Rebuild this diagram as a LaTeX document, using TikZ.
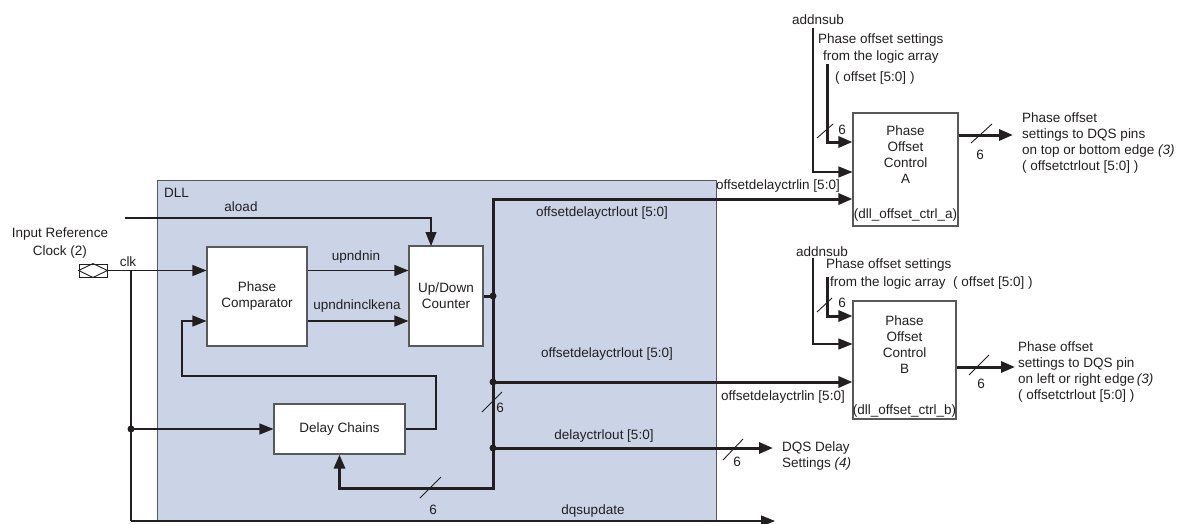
\documentclass[tikz,border=0pt]{standalone}
\usepackage{fontspec}
\setmainfont{Liberation Sans}
\usetikzlibrary{arrows.meta,calc}
\definecolor{dllfill}{HTML}{CBD3E6}
\definecolor{ink}{HTML}{231F20}
\definecolor{edge}{HTML}{58595B}
\begin{document}
\begin{tikzpicture}[x=1pt,y=-1pt, font=\fontsize{13.5}{16}\selectfont,
  wire/.style={draw=ink, line width=1.1pt},
  bus/.style={draw=ink, line width=3pt},
  arr/.style={-{Triangle[length=14pt,width=11pt]}},
  arrtwo/.style={{Triangle[length=14pt,width=11pt]}-{Triangle[length=14pt,width=11pt]}},
  blk/.style={draw=edge, fill=white, line width=1.1pt, inner sep=0pt, text=ink},
  lbl/.style={text=ink, inner sep=0pt},
  jdot/.style={circle, fill=ink, inner sep=0pt, minimum size=7pt},
  tick/.style={draw=ink, line width=0.9pt}]
\useasboundingbox (0,0) rectangle (1177,523);

% DLL region
\node[draw=edge, fill=dllfill, line width=1pt, minimum width=559pt, minimum height=341pt, inner sep=0pt, anchor=north west] (dll) at (157,180) {};
\node[lbl, anchor=west] (dlll) at (164,193) {DLL};

% blocks
\node[blk, minimum width=100pt, minimum height=99pt, align=center] (pc) at (257,296.5) {Phase\\Comparator};
\node[blk, minimum width=74pt, minimum height=100pt, align=center] (udc) at (446,296) {Up/Down\\Counter};
\node[blk, minimum width=131pt, minimum height=50pt] (dc) at (339.5,429) {Delay Chains};
\node[blk, minimum width=105pt, minimum height=113pt] (pa) at (905.5,169.5) {};
\node[lbl, align=center] (pat) at (905.5,155) {Phase\\Offset\\Control\\A};
\node[lbl] (pan) at (905.5,215) {(dll\_offset\_ctrl\_a)};
\node[blk, minimum width=103pt, minimum height=118pt] (pb) at (904.5,360) {};
\node[lbl, align=center] (pbt) at (904.5,345) {Phase\\Offset\\Control\\B};
\node[lbl] (pbn) at (904.5,411) {(dll\_offset\_ctrl\_b)};

% input pin
\node[draw=ink, line width=0.9pt, minimum width=28pt, minimum height=13pt, inner sep=0pt] (pin) at (93,270.5) {};
\draw[ink, line width=0.9pt] (pin.west) -- (pin.north) -- (pin.east) -- (pin.south) -- cycle;

% coordinates
\coordinate (aload) at (125,218);
\coordinate (udin) at (431,246);
\coordinate (j1) at (131,270.5);
\coordinate (j2) at (131,429);
\coordinate (j3) at (131,521);
\coordinate (dqs) at (775,521);
\coordinate (fb) at (182,321);
\coordinate (fb2) at (182,376);
\coordinate (fb3) at (436,376);
\coordinate (fb4) at (436,429);
\coordinate (bt) at (493,199);
\coordinate (b1) at (493,296);
\coordinate (b2) at (493,382);
\coordinate (b3) at (493,448);
\coordinate (bb) at (493,488);
\coordinate (dqd) at (773,448);
\coordinate (asa) at (813,28);
\coordinate (asa2) at (813,172);
\coordinate (ofa) at (827,64);
\coordinate (ofa2) at (827,142);
\coordinate (outa) at (1013,135);
\coordinate (asb) at (813,258);
\coordinate (asb2) at (813,344);
\coordinate (ofb) at (827,277);
\coordinate (ofb2) at (827,316);
\coordinate (outb) at (1015,367);

% thin connectors
\draw[wire,arr] (aload) -| (udin);
\draw[wire,arr] (pin.east) -- (pc.west |- pin.east);
\draw[wire] (j1) -- (j3);
\draw[wire,arr] (j3) -- (dqs);
\draw[wire,arr] (j2) -- (dc.west);
\draw[wire,arr] (pc.east |- j1) -- (udc.west |- j1);
\draw[wire,arr] (pc.east |- fb) -- (udc.west |- fb);
\draw[wire,arr] (dc.east) -- (fb4) -- (fb3) -- (fb2) -- (fb) -- (pc.west |- fb);
\draw[wire,arr] (asa) -- (asa2) -- (pa.west |- asa2);
\draw[wire,arr] (asb) -- (asb2) -- (pb.west |- asb2);

% buses
\draw[bus] (udc.east) -- (b1);
\draw[bus,arrtwo] (pa.west |- bt) -- (bt) -- (bb) -- (dc.south |- bb) -- (dc.south);
\draw[bus,arr] (b2) -- (pb.west |- b2);
\draw[bus,arr] (b3) -- (dqd);
\draw[bus,arr] (ofa) -- (ofa2) -- (pa.west |- ofa2);
\draw[bus,arr] (pa.east |- outa) -- (outa);
\draw[bus,arr] (ofb) -- (ofb2) -- (pb.west |- ofb2);
\draw[bus,arr] (pb.east |- outb) -- (outb);

% junction dots
\node[jdot] (d0) at (j2) {};
\node[jdot] (d1) at (b1) {};
\node[jdot] (d2) at (b2) {};
\node[jdot] (d3) at (b3) {};

% bus width ticks
\coordinate (s1) at (492,402);
\coordinate (s2) at (430.5,487.5);
\coordinate (s3) at (733,449.5);
\coordinate (s4) at (825,131);
\coordinate (s5) at (981.5,133.5);
\coordinate (s6) at (824.5,305);
\coordinate (s7) at (979,365);
\draw[tick] ($(s1)+(-10,10)$) -- ($(s1)+(10,-10)$);
\draw[tick] ($(s2)+(-10.5,10.5)$) -- ($(s2)+(10.5,-10.5)$);
\draw[tick] ($(s3)+(-10,10.5)$) -- ($(s3)+(10,-10.5)$);
\draw[tick] ($(s4)+(-8,7)$) -- ($(s4)+(8,-7)$);
\draw[tick] ($(s5)+(-10.5,9.5)$) -- ($(s5)+(10.5,-9.5)$);
\draw[tick] ($(s6)+(-7.5,7)$) -- ($(s6)+(7.5,-7)$);
\draw[tick] ($(s7)+(-10,10)$) -- ($(s7)+(10,-10)$);
\node[lbl] (n1) at (500,408) {6};
\node[lbl] (n2) at (433,510) {6};
\node[lbl] (n3) at (737,462) {6};
\node[lbl] (n4) at (842,130) {6};
\node[lbl] (n5) at (980,155) {6};
\node[lbl] (n6) at (842,303) {6};
\node[lbl] (n7) at (981,384) {6};

% labels
\node[lbl] (aloadl) at (241,207) {aload};
\node[lbl, align=center, font=\fontsize{13.5}{18}\selectfont] (irc) at (60,243) {Input Reference\\Clock (2)};
\node[lbl] (clkl) at (128,262) {clk};
\node[lbl] (upl) at (356,257) {upndnin};
\node[lbl] (upcl) at (357,306) {upndninclkena};
\node[lbl] (odo1) at (602,213) {offsetdelayctrlout [5:0]};
\node[lbl] (odo2) at (607,354) {offsetdelayctrlout [5:0]};
\node[lbl] (dco) at (604,436) {delayctrlout [5:0]};
\node[lbl] (dqu) at (593,511) {dqsupdate};
\node[lbl, anchor=west] (odia) at (716,186) {offsetdelayctrlin [5:0]};
\node[lbl, anchor=west] (odib) at (721,397) {offsetdelayctrlin [5:0]};
\node[lbl, anchor=west, align=left] (dqsl) at (782,455.5) {DQS Delay\\Settings \textit{(4)}};
\node[lbl] (asal) at (818,20) {addnsub};
\node[lbl, anchor=west] (pa1) at (818,40) {Phase offset settings};
\node[lbl, anchor=west] (pa2) at (823,57) {from the logic array};
\node[lbl, anchor=west] (pa3) at (835,78) {( offset [5:0] )};
\node[lbl, anchor=west, align=left] (oa) at (1022,143.5) {Phase offset\\settings to DQS pins\\on top or bottom edge \textit{(3)}\\( offsetctrlout [5:0] )};
\node[lbl] (asbl) at (822,252) {addnsub};
\node[lbl, anchor=west] (pb1) at (826,265) {Phase offset settings};
\node[lbl, anchor=west] (pb2) at (830,283) {from the logic array\ \ ( offset [5:0] )};
\node[lbl, anchor=west, align=left] (ob) at (1018,371.5) {Phase offset\\settings to DQS pin\\on left or right edge\,\textit{(3)}\\( offsetctrlout [5:0] )};
\end{tikzpicture}
\end{document}
